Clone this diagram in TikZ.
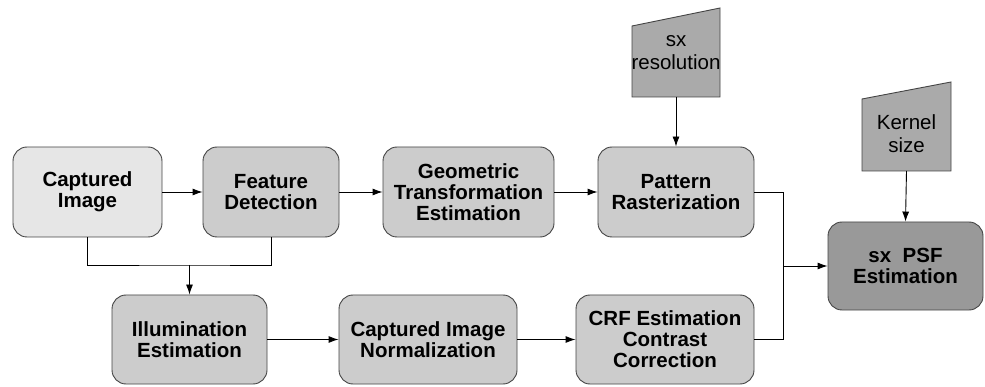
\documentclass[tikz,border=0pt]{standalone}
\usepackage{fontspec}
\setmainfont{Liberation Sans}
\usetikzlibrary{arrows.meta}
\definecolor{lightbox}{HTML}{E6E6E6}
\definecolor{midbox}{HTML}{CCCCCC}
\definecolor{trapfill}{HTML}{AAAAAA}
\definecolor{darkbox}{HTML}{999999}
\definecolor{edge}{HTML}{444444}
\begin{document}
\begin{tikzpicture}[x=1pt,y=-1pt,
  procbox/.style={draw=edge, line width=0.9pt, rounded corners=14pt, fill=midbox,
    minimum height=90pt, align=center, inner sep=2pt,
    font=\fontsize{20.5}{21}\selectfont\bfseries},
  inputtxt/.style={align=center, inner sep=0pt, font=\fontsize{20.5}{23}\selectfont},
  trap/.style={draw=edge, line width=0.9pt, fill=trapfill},
  conn/.style={line width=0.9pt, draw=black},
  arr/.style={conn, -{Latex[length=10pt,width=7pt]}}]
\useasboundingbox (0,0) rectangle (985,387);
% top row
\node[procbox, fill=lightbox, minimum width=149pt] (cap) at (87.5,192) {Captured\\Image};
\node[procbox, minimum width=136pt] (feat) at (271,192) {Feature\\Detection};
\node[procbox, minimum width=171pt] (geo) at (468.5,192) {Geometric\\Transformation\\Estimation};
\node[procbox, minimum width=156pt] (pat) at (676,192) {Pattern\\Rasterization};
% bottom row
\node[procbox, minimum width=155pt, minimum height=89pt] (ill) at (189.5,339.5) {Illumination\\Estimation};
\node[procbox, minimum width=178pt, minimum height=89pt] (norm) at (428,339.5) {Captured Image\\Normalization};
\node[procbox, minimum width=178pt, minimum height=89pt] (crf) at (665,339.5) {CRF Estimation\\Contrast\\Correction};
% PSF
\node[procbox, fill=darkbox, minimum width=155pt, minimum height=88pt] (psf) at (905.5,266) {sx\ \ PSF\\Estimation};
% trapezoid inputs
\draw[trap] (632,26) -- (720,8) -- (720,97) -- (632,97) -- cycle;
\node[inputtxt] (sxres) at (676,53) {sx\\resolution};
\coordinate (sxb) at (676,97);
\draw[trap] (862,99) -- (951,82) -- (951,171) -- (862,171) -- cycle;
\node[inputtxt] (kern) at (906.5,134) {Kernel\\size};
\coordinate (kb) at (906.5,171);
% connectors
\draw[arr] (cap) -- (feat);
\draw[arr] (feat) -- (geo);
\draw[arr] (geo) -- (pat);
\draw[arr] (sxb) -- (pat.north);
\draw[arr] (kb) -- (psf.north);
\coordinate (m1) at (189.5,265);
\draw[conn] (cap.south) |- (m1) -| (feat.south);
\draw[arr] (m1) -- (ill.north);
\draw[arr] (ill) -- (norm);
\draw[arr] (norm) -- (crf);
\coordinate (j) at (783,266);
\draw[conn] (pat.east) -| (j);
\draw[conn] (crf.east) -| (j);
\draw[arr] (j) -- (psf.west);
\end{tikzpicture}
\end{document}
